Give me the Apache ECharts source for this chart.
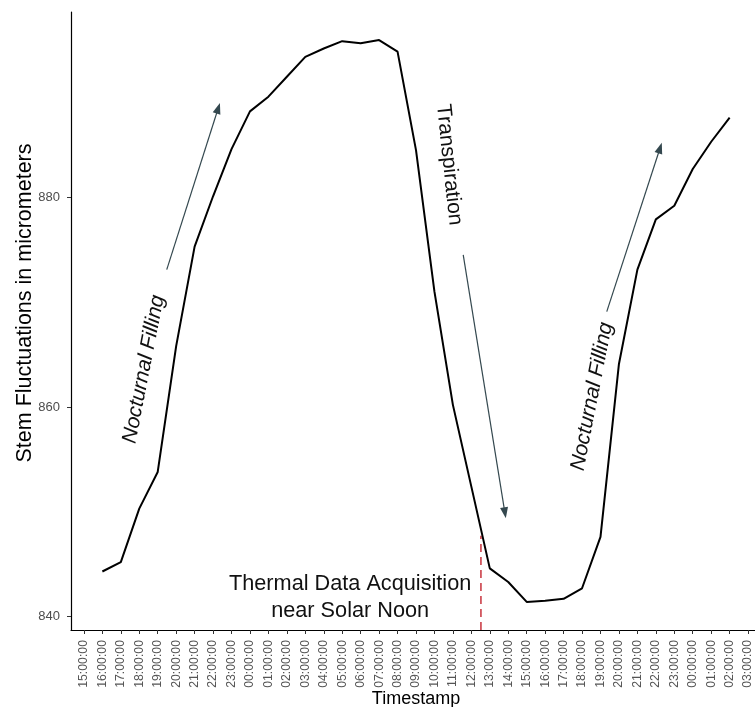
<!DOCTYPE html>
<html>
<head>
<meta charset="utf-8">
<script src="https://cdn.jsdelivr.net/npm/echarts@6/dist/echarts.min.js"></script>
<style>
  html, body { margin: 0; padding: 0; background: #fff; }
  #chart { width: 755px; height: 707px; }
</style>
</head>
<body>
<div id="chart"></div>
<script>
// Hourly tick labels; position i is hours after the first 15:00:00 mark
const tickLabels = [
  '15:00:00','16:00:00','17:00:00','18:00:00','19:00:00','20:00:00','21:00:00',
  '22:00:00','23:00:00','00:00:00','01:00:00','02:00:00','03:00:00','04:00:00',
  '05:00:00','06:00:00','07:00:00','08:00:00','09:00:00','10:00:00','11:00:00',
  '12:00:00','13:00:00','14:00:00','15:00:00','16:00:00','17:00:00','18:00:00',
  '19:00:00','20:00:00','21:00:00','22:00:00','23:00:00','00:00:00','01:00:00',
  '02:00:00','03:00:00'
];

// Stem diameter readings (micrometers), hourly from 16:00 to 02:00 two days later
const hours = [];
for (let h = 1; h <= 35; h++) hours.push(h);
const stemValues = [
  844.3, 845.2, 850.3, 853.8, 865.8, 875.3, 880.1, 884.6, 888.2, 889.6,
  891.5, 893.4, 894.2, 894.9, 894.7, 895.0, 893.9, 884.5, 871.0, 860.2,
  852.4, 844.6, 843.3, 841.4, 841.5, 841.7, 842.7, 847.6, 864.1, 873.1,
  877.9, 879.2, 882.7, 885.3, 887.6
];

const yTicks = [840, 860, 880];

// Annotation arrows: [fromX, fromY, toX, toY] in data units
const arrowFilling1 = [4.49, 873.1, 7.28, 888.5];
const arrowTranspiration = [20.56, 874.5, 22.82, 849.9];
const arrowFilling2 = [28.34, 869.1, 31.23, 884.7];

// Thermal acquisition time (12:30) and the top of its marker line
const acquisitionX = 21.52;
const acquisitionTop = 847.7;

// Axis extents
const xMin = -0.7, xMax = 36.7;
const yMin = 838.72, yMax = 897.68;

const FONT = "'Liberation Sans', Arial, Helvetica, sans-serif";
const ARROW_COLOR = '#34484f';

const chart = echarts.init(document.getElementById('chart'), null, { renderer: 'canvas' });

function arrow(a) {
  return [{ coord: [a[0], a[1]] }, { coord: [a[2], a[3]] }];
}

const option = {
  animation: false,
  backgroundColor: '#ffffff',
  grid: { left: 71, right: -6, top: 12, bottom: 77, outerBoundsMode: 'none' },
  xAxis: {
    type: 'value',
    min: xMin,
    max: xMax,
    name: 'Timestamp',
    nameLocation: 'middle',
    nameGap: 60,
    nameMoveOverlap: false,
    nameTextStyle: { color: '#000', fontSize: 18, fontFamily: FONT },
    axisLine: { show: true, onZero: false, lineStyle: { color: '#000', width: 1.2 } },
    axisTick: {
      show: true, length: 4, inside: false,
      customValues: tickLabels.map((_, i) => i),
      lineStyle: { color: '#333', width: 1 }
    },
    axisLabel: {
      rotate: 90, margin: 10, fontSize: 12.3, color: '#555', fontFamily: FONT,
      customValues: tickLabels.map((_, i) => i),
      formatter: v => tickLabels[Math.round(v)]
    },
    splitLine: { show: false }
  },
  yAxis: {
    type: 'value',
    min: yMin,
    max: yMax,
    name: 'Stem Fluctuations in micrometers',
    nameLocation: 'middle',
    nameGap: 35,
    nameMoveOverlap: false,
    nameRotate: 90,
    nameTextStyle: {
      color: '#000', fontSize: 21.5, fontFamily: FONT,
      padding: [0, 0, 0, 36]
    },
    axisLine: { show: true, onZero: false, lineStyle: { color: '#000', width: 1.2 } },
    axisTick: {
      show: true, length: 4, inside: false, customValues: yTicks,
      lineStyle: { color: '#333', width: 1 }
    },
    axisLabel: {
      margin: 11, fontSize: 13, color: '#4d4d4d', fontFamily: FONT,
      customValues: yTicks
    },
    splitLine: { show: false }
  },
  series: [
    {
      type: 'line',
      data: hours.map((h, i) => [h, stemValues[i]]),
      showSymbol: false,
      symbol: 'none',
      smooth: false,
      lineStyle: { color: '#000', width: 2 },
      z: 3,
      markLine: {
        silent: true,
        symbol: ['none', 'triangle'],
        symbolSize: [8, 11],
        label: { show: false },
        lineStyle: { color: ARROW_COLOR, width: 1.2, type: 'solid' },
        data: [arrow(arrowFilling1), arrow(arrowTranspiration), arrow(arrowFilling2)]
      }
    },
    {
      type: 'line',
      data: [[acquisitionX, yMin], [acquisitionX, acquisitionTop]],
      showSymbol: false,
      symbol: 'none',
      lineStyle: { color: '#c8323c', width: 1.5, type: [8, 5] },
      z: 2
    }
  ]
};

chart.setOption(option);

// Text annotations anchored at data coordinates
const notes = [
  { x: 3.25, y: 863.6, text: 'Nocturnal Filling', rot: 79, italic: true, size: 21 },
  { x: 19.79, y: 883.1, text: 'Transpiration', rot: -84, italic: false, size: 21 },
  { x: 27.54, y: 861.0, text: 'Nocturnal Filling', rot: 79, italic: true, size: 21 },
  { x: 14.43, y: 841.8, text: 'Thermal Data Acquisition\nnear Solar Noon', rot: 0, italic: false, size: 21.7 }
];

const graphics = notes.map(n => {
  const p = chart.convertToPixel({ gridIndex: 0 }, [n.x, n.y]);
  return {
    type: 'text',
    x: p[0],
    y: p[1],
    rotation: n.rot * Math.PI / 180,
    z: 10,
    style: {
      text: n.text,
      fill: '#111',
      font: (n.italic ? 'italic ' : '') + n.size + 'px ' + FONT,
      align: 'center',
      verticalAlign: 'middle',
      lineHeight: 27
    }
  };
});

chart.setOption({ graphic: graphics });
</script>
</body>
</html>
